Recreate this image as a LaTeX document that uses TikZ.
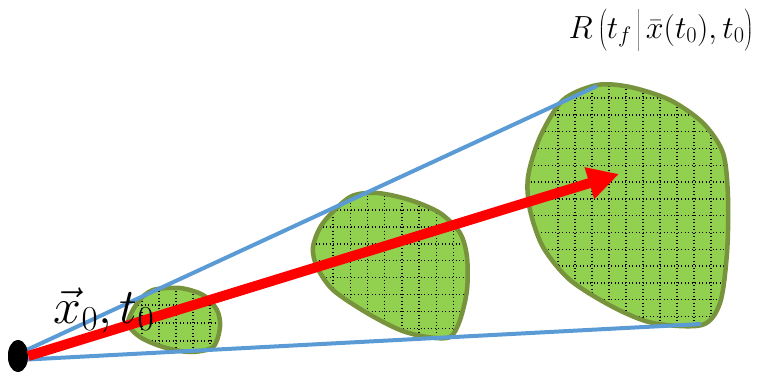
\documentclass[tikz,border=0pt]{standalone}
\usepackage{fix-cm}
\usetikzlibrary{shapes.geometric,arrows.meta}
\definecolor{leaf}{HTML}{92D050}
\definecolor{olive}{HTML}{77933C}
\definecolor{sky}{HTML}{5B9BD5}
\begin{document}
\begin{tikzpicture}[x=1pt,y=-1pt,
  blob/.style={draw=olive,line width=4.5pt},
  gridline/.style={line width=1.4pt,dash pattern=on 1.4pt off 2.1pt},
  cone/.style={sky,line width=4pt},
  dot/.style={ellipse,fill=black,minimum width=20pt,minimum height=32pt,inner sep=0pt}]
\useasboundingbox (0,0) rectangle (761,376);
\path[save path=\smallblob] plot[smooth cycle] coordinates {(128,323) (138,302) (153,290) (180,288) (203,295) (217,310) (220,327) (213,347) (190,352) (163,347) (140,337)};
\path[save path=\midblob] plot[smooth cycle] coordinates {(350,197) (377,193) (410,200) (440,213) (460,233) (467,257) (467,290) (460,320) (450,337) (427,337) (400,330) (367,313) (333,290) (317,267) (313,247) (323,223)};
\path[save path=\bigblob] plot[smooth cycle] coordinates {(563,100) (597,85) (630,87) (670,100) (703,123) (723,153) (728,197) (727,253) (720,303) (702,325) (653,323) (613,307) (570,280) (543,247) (530,210) (528,177) (540,137)};
\fill[leaf,use path=\smallblob];
\begin{scope}
\clip[use path=\smallblob];
\foreach \x in {142,159,...,220}{\draw[gridline] (\x,280)--(\x,360);}
\foreach \y in {305,323,...,355}{\draw[gridline] (120,\y)--(230,\y);}
\end{scope}
\draw[blob,use path=\smallblob];
\fill[leaf,use path=\midblob];
\begin{scope}
\clip[use path=\midblob];
\foreach \x in {333,350.2,...,470}{\draw[gridline] (\x,185)--(\x,345);}
\foreach \y in {210,226.9,...,340}{\draw[gridline] (305,\y)--(475,\y);}
\end{scope}
\draw[blob,use path=\midblob];
\fill[leaf,use path=\bigblob];
\begin{scope}
\clip[use path=\bigblob];
\foreach \x in {558,575,...,730}{\draw[gridline] (\x,75)--(\x,335);}
\foreach \y in {98,114.8,...,330}{\draw[gridline] (520,\y)--(735,\y);}
\end{scope}
\draw[blob,use path=\bigblob];
\coordinate (conetop) at (597,86);
\coordinate (conebot) at (701,324);
\coordinate (tip) at (619,174);
\node[dot] (x0) at (18,356) {};
\draw[cone] (x0.center) ++(0,-2) coordinate (x0up) -- (conetop);
\draw[cone] (x0.center) ++(0,4) coordinate (x0down) -- (conebot);
\node[dot] at (x0) {};
\draw[red,line width=10pt,-{Triangle[length=31pt,width=31pt]}] (x0.east) -- (tip);
\node[anchor=base,inner sep=0pt,font=\fontsize{50}{56}\selectfont] (xlabel) at (104,323) {$\vec{x}_0,t_0$};
\node[anchor=base,inner sep=0pt,font=\fontsize{32}{38}\selectfont] (rlabel) at (661,38) {$R\left(\rule[-4pt]{0pt}{32pt}t_f\,\middle|\,\bar{x}(t_0),t_0\right)$};
\end{tikzpicture}
\end{document}
